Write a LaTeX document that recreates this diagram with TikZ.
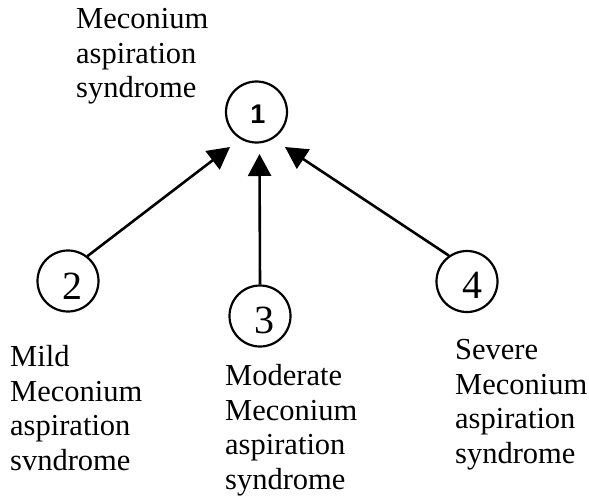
\documentclass[tikz,border=0pt]{standalone}
\usepackage{fontspec}
\setmainfont{Liberation Serif}
\newfontfamily\digitsans{Liberation Sans}
\usetikzlibrary{arrows.meta}
\tikzset{
  stage/.style={draw, circle, line width=2.2pt, minimum size=61pt, inner sep=0pt},
  digit/.style={inner sep=0pt, font=\fontsize{40}{40}\selectfont},
  caption/.style={anchor=north west, align=left, inner sep=0pt,
    font=\fontsize{30.5}{34.5}\selectfont},
  link/.style={line width=2.6pt, -{Triangle[length=22pt,width=23pt]}}
}
\begin{document}
\begin{tikzpicture}[x=1pt, y=-1pt]
\useasboundingbox (0,0) rectangle (589,499);
% circles
\node[stage] (n1) at (256.5,112) {};
\node[stage] (n2) at (68,281) {};
\node[stage] (n3) at (260,316) {};
\node[stage] (n4) at (467,281.5) {};
% digits
\node[inner sep=0pt, font={\digitsans\fontsize{27}{27}\selectfont\bfseries}] (d1) at (258,114.5) {1};
\node[digit] (d2) at (72.5,286.5) {2};
\node[digit] (d3) at (264,320) {3};
\node[digit] (d4) at (472,285) {4};
% arrow tips
\coordinate (t2) at (230,147);
\coordinate (t3) at (259.5,154);
\coordinate (t4) at (285,147);
\draw[link] (n2.52) -- (t2);
\draw[link] (n3.90) -- (t3);
\draw[link] (n4.125) -- (t4);
% captions
\node[caption] (c1) at (76,8.5) {Meconium\\aspiration\\syndrome};
\node[caption] (c2) at (10,345.5) {Mild\\Meconium\\aspiration\\svndrome};
\node[caption] (c3) at (225,364.5) {Moderate\\Meconium\\aspiration\\syndrome};
\node[caption] (c4) at (455,339.5) {Severe\\Meconium\\aspiration\\syndrome};
\end{tikzpicture}
\end{document}
